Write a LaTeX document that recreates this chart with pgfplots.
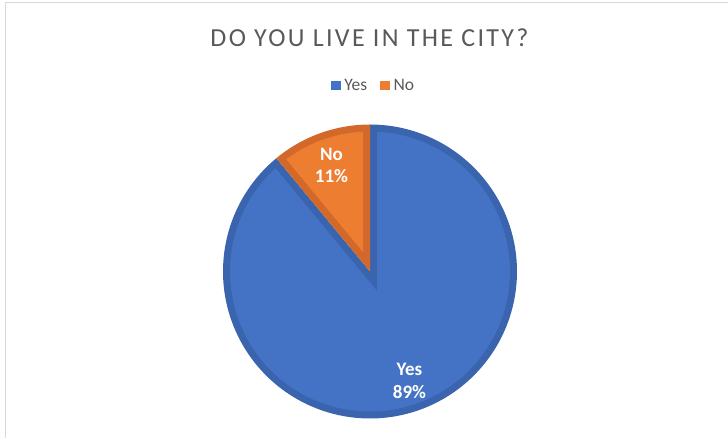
\documentclass[border=0pt]{standalone}
\usepackage{pgfplots}
\pgfplotsset{compat=1.18}
\usepgfplotslibrary{polar}
\usepackage{fontspec}
\setmainfont{Carlito}
\newfontfamily\titlefont[LetterSpace=9]{Carlito}
\definecolor{bluelight}{HTML}{4472C4}
\definecolor{bluedark}{HTML}{3B64AE}
\definecolor{orangelight}{HTML}{ED7D31}
\definecolor{orangedark}{HTML}{D2692A}
\definecolor{txtgray}{HTML}{595959}
\definecolor{framegray}{HTML}{D9D9D9}
\begin{document}
\begin{tikzpicture}[x=1pt,y=1pt]
\useasboundingbox (0,0) rectangle (728,438);
\draw[framegray, line width=1pt] (5,0) -- (5,435) -- (728,435);
\node[text=txtgray, font=\titlefont\fontsize{26}{30}\selectfont, inner sep=0pt] at (369.5,400.5) {DO YOU LIVE IN THE CITY?};
\begin{polaraxis}[
  at={(370,166.5)}, anchor=center,
  scale only axis, width=294pt, height=294pt,
  ymin=0, ymax=147, hide axis, clip=false,
  legend style={at={(0.512,1.131)}, anchor=center, draw=none, fill=none,
    font=\fontsize{17.5}{20}\selectfont, text=txtgray, legend columns=2,
    /tikz/every odd column/.append style={column sep=1.5pt},
    /tikz/every even column/.append style={column sep=11pt}},
  legend image code/.code={\fill[#1,draw=none] (0pt,-4.5pt) rectangle (10pt,5pt);},
]
% Yes = 89 %  -> 320.4 deg (clockwise from 12 o'clock)
\addplot[forget plot, fill=bluedark, draw=none, domain=-230.4:90, samples=241] {147} -- (axis cs:0,0) -- cycle;
\addplot[forget plot, fill=bluelight, draw=none, domain=-227.534:87.134, samples=241] {140} -- (axis cs:-70.2,20.67) -- cycle;
% No = 11 % -> 39.6 deg
\addplot[forget plot, fill=orangedark, draw=none, domain=90:129.6, samples=41] {147} -- (axis cs:0,0) -- cycle;
\addplot[forget plot, fill=orangelight, draw=none, domain=92.866:126.734, samples=41] {140} -- (axis cs:109.8,20.67) -- cycle;
\node[text=white, font=\bfseries\fontsize{19}{22.5}\selectfont, align=center] at (axis cs:109.96,112.8) {No\\11\%};
\node[text=white, font=\bfseries\fontsize{19}{22.5}\selectfont, align=center] at (axis cs:-70.2,116.4) {Yes\\89\%};
\addlegendimage{fill=bluelight}
\addlegendentry{Yes}
\addlegendimage{fill=orangelight}
\addlegendentry{No}
\end{polaraxis}
\end{tikzpicture}
\end{document}
